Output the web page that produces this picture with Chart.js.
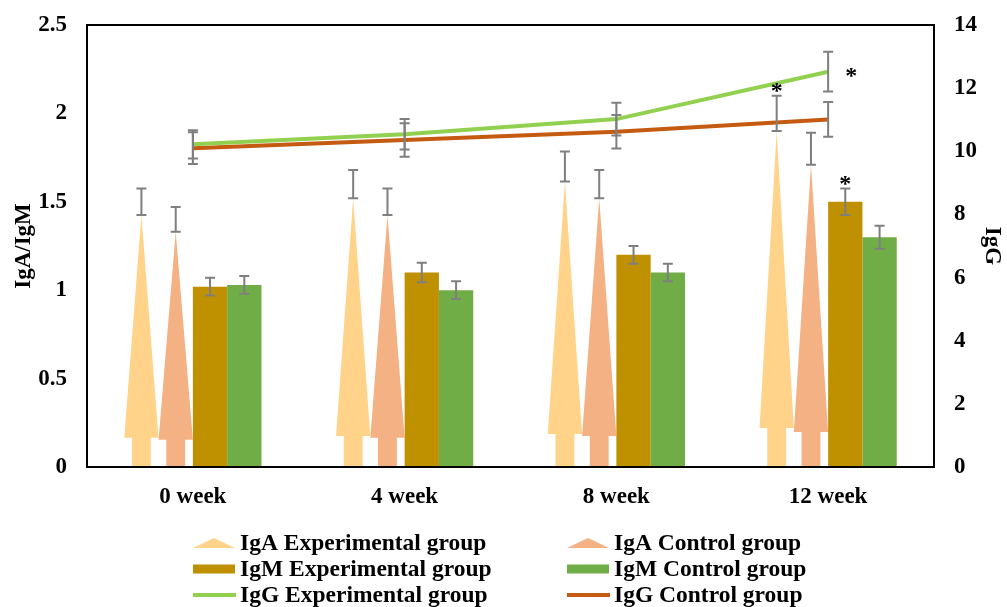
<!DOCTYPE html>
<html><head><meta charset="utf-8">
<script src="https://cdn.jsdelivr.net/npm/chart.js@4"></script>
<style>html,body{margin:0;padding:0;background:#fff}#wrap{position:relative;width:1007px;height:607px}</style>
</head><body><div id="wrap"><canvas id="c"></canvas></div>
<script>
// ---- data ----
const categories = ['0 week', '4 week', '8 week', '12 week'];
const igaExp = [1.50, 1.60, 1.70, 2.00];
const igaExpErr = [0.075, 0.08, 0.085, 0.10];
const igaCtrl = [1.40, 1.50, 1.60, 1.80];
const igaCtrlErr = [0.07, 0.075, 0.08, 0.09];
const igmExp = [1.02, 1.10, 1.20, 1.50];
const igmExpErr = [0.05, 0.055, 0.05, 0.075];
const igmCtrl = [1.03, 1.00, 1.10, 1.30];
const igmCtrlErr = [0.05, 0.05, 0.05, 0.065];
const iggExp = [10.22, 10.54, 11.02, 12.52];
const iggExpErr = [0.45, 0.48, 0.52, 0.63];
const iggCtrl = [10.10, 10.36, 10.62, 11.01];
const iggCtrlErr = [0.50, 0.53, 0.53, 0.55];
const igaExpSig = ['', '', '', '*'];
const igmExpSig = ['', '', '', '*'];
const iggExpSig = ['', '', '', '*'];
const leftTicks = { min: 0, max: 2.5, step: 0.5 };
const rightTicks = { min: 0, max: 14, step: 2 };

const FONT = "'Liberation Serif','Times New Roman',serif";
const FS = 23;
const LFS = 23.5;

const arrowPlugin = {
  id: 'arrowBars',
  beforeDatasetDraw(chart, args) {
    const ds = chart.data.datasets[args.index];
    if (ds.shape !== 'arrow') return;
    const ctx = chart.ctx;
    ctx.save();
    ctx.fillStyle = ds.backgroundColor;
    args.meta.data.forEach(el => {
      const {x, y, base, width} = el.getProps(['x', 'y', 'base', 'width'], true);
      const H = base - y;
      const tip = y + 0.05 * H;
      const tb = base - 0.11 * H;
      const hw = width / 2, sw = width * 0.275;
      ctx.beginPath();
      ctx.moveTo(x, tip);
      ctx.lineTo(x + hw, tb);
      ctx.lineTo(x + sw, tb);
      ctx.lineTo(x + sw, base);
      ctx.lineTo(x - sw, base);
      ctx.lineTo(x - sw, tb);
      ctx.lineTo(x - hw, tb);
      ctx.closePath();
      ctx.fill();
    });
    ctx.restore();
    return false;
  }
};

const decoPlugin = {
  id: 'deco',
  afterDatasetsDraw(chart) {
    const ctx = chart.ctx;
    const a = chart.chartArea;
    ctx.save();
    // frame
    ctx.strokeStyle = '#000';
    ctx.lineWidth = 2;
    ctx.strokeRect(a.left, a.top, a.right - a.left, a.bottom - a.top);
    // error bars
    ctx.strokeStyle = '#7f7f7f';
    ctx.lineWidth = 2;
    chart.data.datasets.forEach((ds, di) => {
      if (!ds.errors) return;
      const meta = chart.getDatasetMeta(di);
      const sc = chart.scales[meta.yAxisID];
      meta.data.forEach((el, i) => {
        const v = ds.data[i], e = ds.errors[i];
        const x = el.x;
        const yt = sc.getPixelForValue(v + e), yb = sc.getPixelForValue(v - e);
        ctx.beginPath();
        ctx.moveTo(x, yt); ctx.lineTo(x, yb);
        ctx.moveTo(x - 5, yt); ctx.lineTo(x + 5, yt);
        ctx.moveTo(x - 5, yb); ctx.lineTo(x + 5, yb);
        ctx.stroke();
      });
    });
    // significance marks
    ctx.fillStyle = '#000';
    ctx.font = 'bold 24px ' + FONT;
    ctx.textAlign = 'center';
    ctx.textBaseline = 'alphabetic';
    chart.data.datasets.forEach((ds, di) => {
      if (!ds.sig) return;
      const meta = chart.getDatasetMeta(di);
      const sc = chart.scales[meta.yAxisID];
      meta.data.forEach((el, i) => {
        const s = ds.sig[i];
        if (!s) return;
        const v = ds.data[i], e = ds.errors[i];
        if (ds.type === 'line') {
          ctx.fillText(s, el.x + 23, sc.getPixelForValue(v) + 11);
        } else {
          ctx.fillText(s, el.x, sc.getPixelForValue(v + e) + 2);
        }
      });
    });
    ctx.restore();
  },
  afterDraw(chart) {
    const ctx = chart.ctx;
    const ds = chart.data.datasets;
    const cols = [193, 567];
    const rows = [543, 569, 595];
    ctx.save();
    ctx.font = 'bold ' + LFS + 'px ' + FONT;
    ctx.textBaseline = 'middle';
    ctx.textAlign = 'left';
    ds.forEach((d, i) => {
      const cx = cols[i % 2], cy = rows[Math.floor(i / 2)];
      ctx.fillStyle = d.type === 'line' ? d.borderColor : d.backgroundColor;
      if (d.shape === 'arrow') {
        ctx.beginPath();
        ctx.moveTo(cx, cy + 5);
        ctx.lineTo(cx + 21, cy - 5);
        ctx.lineTo(cx + 42, cy + 5);
        ctx.closePath();
        ctx.fill();
      } else if (d.type === 'line') {
        ctx.fillRect(cx, cy - 2, 43, 4);
      } else {
        ctx.fillRect(cx, cy - 4.5, 42, 9);
      }
      ctx.fillStyle = '#000';
      ctx.fillText(d.label, cx + 47, cy + 1);
    });
    ctx.restore();
  }
};

const tickFont = { family: FONT, size: FS, weight: 'bold' };

new Chart(document.getElementById('c'), {
  data: {
    labels: categories,
    datasets: [
      { type: 'bar', label: 'IgA Experimental group', data: igaExp, errors: igaExpErr, sig: igaExpSig, shape: 'arrow', backgroundColor: '#FFD48A', yAxisID: 'y', order: 1 },
      { type: 'bar', label: 'IgA Control group', data: igaCtrl, errors: igaCtrlErr, shape: 'arrow', backgroundColor: '#F4B183', yAxisID: 'y', order: 1 },
      { type: 'bar', label: 'IgM Experimental group', data: igmExp, errors: igmExpErr, sig: igmExpSig, backgroundColor: '#BF9000', yAxisID: 'y', order: 1 },
      { type: 'bar', label: 'IgM Control group', data: igmCtrl, errors: igmCtrlErr, backgroundColor: '#70AD47', yAxisID: 'y', order: 1 },
      { type: 'line', label: 'IgG Experimental group', data: iggExp, errors: iggExpErr, sig: iggExpSig, borderColor: '#92D050', backgroundColor: '#92D050', borderWidth: 4, pointRadius: 0, tension: 0, yAxisID: 'y1', order: 0 },
      { type: 'line', label: 'IgG Control group', data: iggCtrl, errors: iggCtrlErr, borderColor: '#C55A11', backgroundColor: '#C55A11', borderWidth: 4, pointRadius: 0, tension: 0, yAxisID: 'y1', order: 0 }
    ]
  },
  options: {
    responsive: true,
    maintainAspectRatio: false,
    animation: false,
    layout: { padding: { top: 25, left: 0, right: 0, bottom: 90 } },
    datasets: { bar: { categoryPercentage: 0.648, barPercentage: 1 } },
    plugins: { legend: { display: false }, tooltip: { enabled: false } },
    scales: {
      x: {
        grid: { display: false, drawTicks: false },
        border: { display: false },
        ticks: { font: tickFont, color: '#000', padding: 16 },
        afterFit(s) { s.height = 50; s.paddingLeft = 0; s.paddingRight = 0; }
      },
      y: {
        position: 'left',
        min: leftTicks.min, max: leftTicks.max,
        grid: { display: false, drawTicks: false },
        border: { display: false },
        ticks: { stepSize: leftTicks.step, font: tickFont, color: '#000', padding: 20, callback: v => String(v) },
        title: { display: true, text: 'IgA/IgM', font: tickFont, color: '#000', padding: { top: 10, bottom: 0 } },
        afterFit(s) { s.width = 87; s.paddingTop = 0; s.paddingBottom = 0; }
      },
      y1: {
        position: 'right',
        min: rightTicks.min, max: rightTicks.max,
        grid: { display: false, drawTicks: false },
        border: { display: false },
        ticks: { stepSize: rightTicks.step, font: tickFont, color: '#000', padding: 20, callback: v => String(v) },
        title: { display: true, text: 'IgG', font: tickFont, color: '#000', padding: { top: 1, bottom: 0 } },
        afterFit(s) { s.width = 73; s.paddingTop = 0; s.paddingBottom = 0; }
      }
    }
  },
  plugins: [arrowPlugin, decoPlugin]
});
</script>
</body></html>
